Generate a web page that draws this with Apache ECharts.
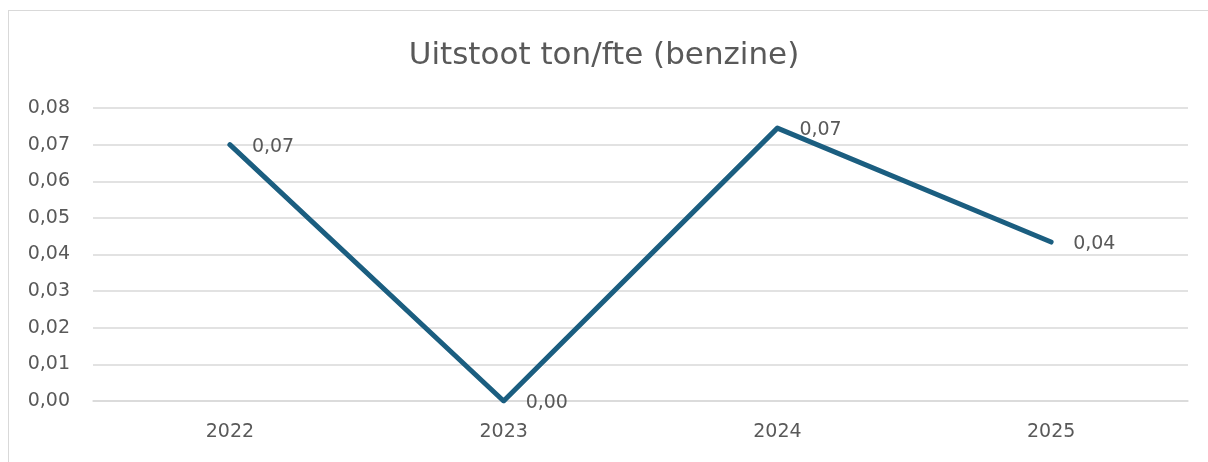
<!DOCTYPE html>
<html>
<head>
<meta charset="utf-8">
<script src="https://cdn.jsdelivr.net/npm/echarts@6/dist/echarts.min.js"></script>
<style>
  html, body { margin: 0; padding: 0; background: #fff; }
  .frame {
    position: absolute; left: 8px; top: 10px; width: 1300px; height: 500px;
    border: 1px solid #d9d9d9; box-sizing: border-box;
  }
  .charts { position: absolute; left: 0; top: 0; width: 1208px; height: 462px; }
</style>
</head>
<body>
<div class="frame"></div>
<div class="charts" id="charts"></div>
<script>
  const years = ['2022', '2023', '2024', '2025']
  const emissions = [0.070, 0.000, 0.0745, 0.0434]
  const yTicks = { min: 0, max: 0.08, step: 0.01 }

  const fmt = v => v.toFixed(2).replace('.', ',')
  const textColor = '#595959'
  const fontFamily = 'DejaVu Sans, sans-serif'

  const chart = echarts.init(document.getElementById('charts'))
  const option = {
    animation: false,
    title: {
      text: 'Uitstoot ton/fte (benzine)',
      left: 'center',
      top: 35,
      textStyle: { color: textColor, fontSize: 31, fontWeight: 'normal', fontFamily }
    },
    grid: { left: 93, right: 20, top: 108, bottom: 61 },
    xAxis: {
      type: 'category',
      data: years,
      boundaryGap: true,
      axisLine: { lineStyle: { color: '#d9d9d9', width: 1.5 } },
      axisTick: { show: false },
      axisLabel: { color: textColor, fontSize: 19, margin: 22, fontFamily }
    },
    yAxis: {
      type: 'value',
      min: yTicks.min,
      max: yTicks.max,
      interval: yTicks.step,
      axisLine: { show: false },
      axisTick: { show: false },
      splitLine: { lineStyle: { color: '#d9d9d9', width: 1.5 } },
      axisLabel: { color: textColor, fontSize: 19, margin: 23, fontFamily, formatter: fmt }
    },
    series: [{
      type: 'line',
      data: emissions,
      symbol: 'circle',
      symbolSize: 0,
      showSymbol: true,
      lineStyle: { color: '#1b5e80', width: 5, cap: 'round', join: 'round' },
      itemStyle: { color: '#1b5e80' },
      label: {
        show: true,
        position: 'right',
        distance: 22,
        offset: [0, 2],
        color: textColor,
        fontSize: 19,
        fontFamily,
        formatter: p => fmt(p.value)
      }
    }]
  }
  chart.setOption(option)
</script>
</body>
</html>
